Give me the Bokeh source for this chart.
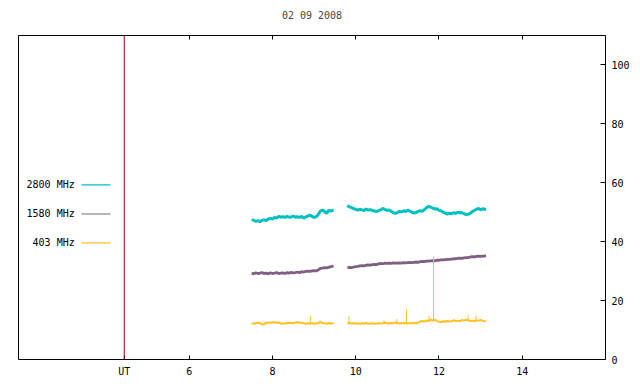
from bokeh.plotting import figure
from bokeh.models import LinearAxis, FixedTicker, Span, Range1d, CustomLabelingPolicy
from bokeh.core.properties import value
from bokeh.embed import file_html
from bokeh.resources import INLINE

TITLE = "02 09 2008"
FONT = "DejaVu Sans Mono"

# time (UT hours) for the two observation blocks
t1 = [7.50, 7.55, 7.60, 7.65, 7.70, 7.75, 7.80, 7.85, 7.90, 7.95,
      8.00, 8.05, 8.10, 8.15, 8.20, 8.25, 8.30, 8.35, 8.40, 8.45,
      8.50, 8.55, 8.60, 8.65, 8.70, 8.75, 8.80, 8.85, 8.90, 8.95,
      9.00, 9.05, 9.10, 9.15, 9.20, 9.25, 9.30, 9.35, 9.40, 9.47]
t2 = [9.80, 9.85, 9.90, 9.95,
      10.00, 10.05, 10.10, 10.15, 10.20, 10.25, 10.30, 10.35, 10.40, 10.45,
      10.50, 10.55, 10.60, 10.65, 10.70, 10.75, 10.80, 10.85, 10.90, 10.95,
      11.00, 11.05, 11.10, 11.15, 11.20, 11.25, 11.30, 11.35, 11.40, 11.45,
      11.50, 11.55, 11.60, 11.65, 11.70, 11.75, 11.80, 11.85, 11.90, 11.95,
      12.00, 12.05, 12.10, 12.15, 12.20, 12.25, 12.30, 12.35, 12.40, 12.45,
      12.50, 12.55, 12.60, 12.65, 12.70, 12.75, 12.80, 12.85, 12.90, 12.95,
      13.00, 13.06, 13.13]

# 2800 MHz
f2800_a = [47.5, 47.2, 46.9, 47.1, 46.8, 47.3, 47.4, 47.2, 47.7, 47.9,
           47.7, 48.2, 48.0, 48.6, 48.3, 48.5, 48.2, 48.6, 48.3, 48.4,
           48.7, 48.3, 48.5, 48.2, 48.6, 48.0, 48.4, 48.7, 49.0, 48.6,
           48.2, 48.5, 49.2, 50.4, 50.7, 50.3, 49.6, 50.6, 50.4, 50.8]
f2800_b = [52.3, 51.8, 51.6, 51.2,
           51.0, 50.7, 51.0, 50.8, 50.6, 51.1, 50.7, 50.9, 50.6, 50.4,
           50.2, 50.6, 50.8, 51.3, 51.0, 50.6, 50.8, 50.3, 49.9, 49.6,
           49.9, 50.3, 50.1, 50.5, 50.2, 50.7, 50.4, 50.0, 49.7, 49.9,
           50.3, 50.5, 50.3, 50.9, 51.5, 52.0, 51.7, 51.4, 51.1, 51.2,
           50.6, 50.5, 50.0, 49.7, 49.4, 49.7, 49.5, 49.8, 49.6, 50.0,
           49.8, 49.9, 49.5, 49.2, 49.3, 49.6, 50.2, 50.6, 51.0, 51.3,
           50.8, 51.2, 50.9]

# 1580 MHz
f1580_a = [29.3, 29.1, 29.4, 29.2, 29.3, 29.5, 29.2, 29.3, 29.1, 29.4,
           29.2, 29.3, 29.5, 29.2, 29.3, 29.4, 29.2, 29.5, 29.3, 29.6,
           29.4, 29.5, 29.7, 29.5, 29.8, 29.7, 29.9, 30.0, 29.9, 30.1,
           30.2, 30.1, 30.4, 30.9, 31.0, 31.2, 31.1, 31.3, 31.5, 31.7]
f1580_b = [31.2, 31.3, 31.2, 31.4,
           31.5, 31.6, 31.8, 31.9, 31.8, 32.0, 32.1, 32.0, 32.2, 32.3,
           32.2, 32.5, 32.6, 32.5, 32.7, 32.6, 32.7, 32.6, 32.8, 32.7,
           32.7, 32.8, 32.7, 32.9, 32.8, 32.9, 33.0, 32.9, 33.0, 33.1,
           33.0, 33.2, 33.3, 33.2, 33.4, 33.4, 33.5, 33.6, 33.5, 33.7,
           33.7, 33.8, 33.8, 33.9, 34.0, 34.0, 34.1, 34.2, 34.2, 34.3,
           34.4, 34.3, 34.5, 34.6, 34.6, 34.8, 34.9, 34.8, 35.0, 35.1,
           35.0, 35.1, 35.2]

# 403 MHz
f403_a = [12.2, 12.1, 12.3, 12.5, 12.4, 11.9, 12.0, 12.4, 12.6, 12.5,
          12.6, 12.7, 12.5, 12.6, 12.2, 12.1, 12.2, 12.4, 12.5, 12.4,
          12.3, 12.6, 12.7, 12.5, 12.5, 12.3, 12.1, 12.3, 12.2, 12.4,
          12.1, 12.2, 12.4, 12.7, 12.4, 12.3, 12.1, 12.4, 12.2, 12.3]
f403_b = [12.3, 12.4, 12.2, 12.3,
          12.2, 12.3, 12.1, 12.3, 12.2, 12.4, 12.1, 12.2, 12.3, 12.1,
          12.2, 12.3, 12.2, 12.3, 12.5, 12.3, 12.2, 12.4, 12.3, 12.6,
          12.3, 12.2, 12.4, 12.3, 12.4, 12.2, 12.3, 12.3, 12.4, 12.3,
          12.5, 12.9, 13.1, 12.8, 13.3, 13.0, 13.6, 13.2, 13.5, 13.1,
          12.8, 12.7, 13.0, 12.9, 13.1, 12.9, 13.0, 13.3, 13.1, 13.2,
          13.0, 13.4, 13.2, 13.5, 13.3, 13.1, 13.2, 13.0, 13.3, 13.2,
          13.4, 13.1, 13.0]
# 403 MHz short bursts: time, base, peak
burst_t = [8.91, 9.14, 9.84, 10.68, 10.99, 11.22, 11.76, 11.87, 12.70, 12.89]
burst_base = [12.3, 12.6, 12.3, 12.4, 12.5, 12.4, 13.1, 13.2, 13.3, 13.2]
burst_peak = [14.9, 13.3, 14.7, 13.3, 13.7, 17.0, 14.9, 35.0, 15.0, 15.0]

series_names = ["2800 MHz", "1580 MHz", "403 MHz"]
series_colors = ["#00c0c0", "#806080", "#ffc020"]
legend_y = [59.3, 49.4, 39.6]

x_ticks = [6, 8, 10, 12, 14]
ut_pos = 4.44
y_ticks = [0, 20, 40, 60, 80, 100]

p = figure(width=640, height=384, output_backend="svg", toolbar_location=None,
           x_range=Range1d(1.9, 16.0), y_range=Range1d(0, 110),
           min_border_left=18, min_border_right=35, min_border_top=35,
           min_border_bottom=25)
p.title.text = TITLE
p.title.align = "center"
p.title.text_font = FONT
p.title.text_font_size = "10px"
p.title.text_font_style = "normal"
p.title.standoff = 8
p.outline_line_color = "black"
p.outline_line_width = 1
p.xgrid.visible = False
p.ygrid.visible = False
p.yaxis.visible = False
p.background_fill_color = "white"
p.border_fill_color = "white"

xa = p.xaxis[0]
xa.ticker = FixedTicker(ticks=[ut_pos] + x_ticks)
xa.major_label_overrides = {ut_pos: "UT"}
xa.major_tick_in = 4
xa.major_tick_out = 0
xa.minor_tick_in = 0
xa.minor_tick_out = 0
xa.axis_line_color = None
xa.major_label_standoff = 6
xa.major_label_text_font = FONT
xa.major_label_text_font_size = "10px"
xa.major_label_text_color = "black"

top = LinearAxis(ticker=FixedTicker(ticks=x_ticks), major_tick_in=4, major_tick_out=0,
                 minor_tick_in=0, minor_tick_out=0, axis_line_color=None,
                 major_label_policy=CustomLabelingPolicy(code="return new Set()"),
                 major_label_standoff=0)
p.add_layout(top, "above")

ra = LinearAxis(ticker=FixedTicker(ticks=y_ticks), major_tick_in=5, major_tick_out=0,
                minor_tick_in=0, minor_tick_out=0, axis_line_color=None,
                major_label_standoff=6, major_label_text_font=FONT,
                major_label_text_font_size="10px", major_label_text_color="black")
p.add_layout(ra, "right")

p.add_layout(Span(location=ut_pos, dimension="height", line_color="#a00000", line_width=1))

nan = float("nan")
tt = t1 + [nan] + t2
p.line(tt, f2800_a + [nan] + f2800_b, line_color=series_colors[0], line_width=3)
p.line(tt, f1580_a + [nan] + f1580_b, line_color=series_colors[1], line_width=2.8)
p.line(tt, f403_a + [nan] + f403_b, line_color=series_colors[2], line_width=2)
p.segment(x0=burst_t, y0=burst_base, x1=burst_t, y1=burst_peak,
          line_color=series_colors[2], line_width=1)

# legend (text then line sample)
p.text(x=[3.25] * 3, y=legend_y, text=series_names, text_align="right",
       text_baseline="middle", text_font=value(FONT), text_font_size="10px",
       text_color="black")
p.segment(x0=[3.41] * 3, y0=legend_y, x1=[4.11] * 3, y1=legend_y,
          line_color=series_colors, line_width=1.2)

open("out.html", "w").write(file_html(p, INLINE))
